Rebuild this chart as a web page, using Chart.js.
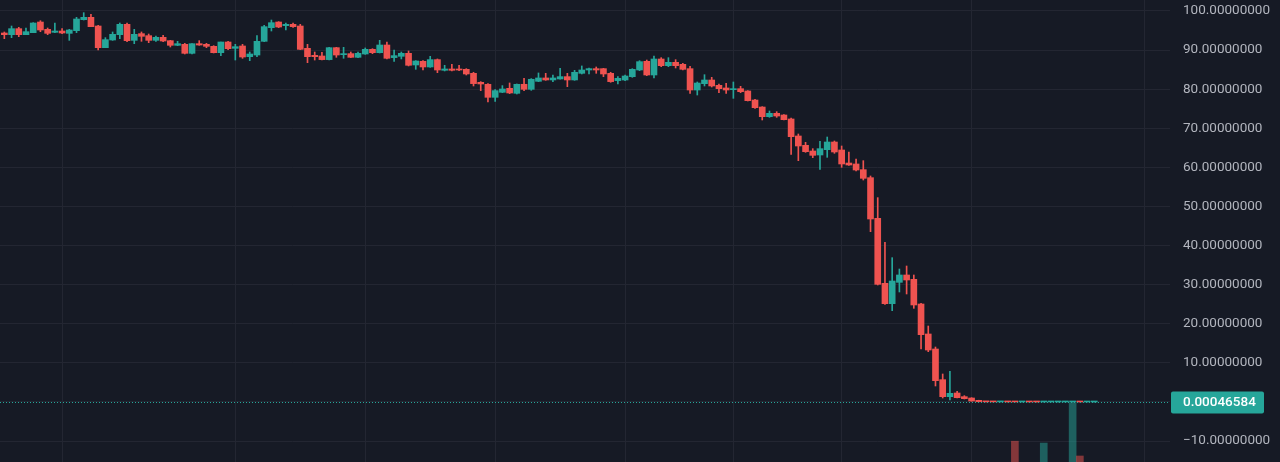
<!DOCTYPE html>
<html>
<head>
<meta charset="utf-8">
<script src="https://cdn.jsdelivr.net/npm/chart.js@4"></script>
<style>
html,body{margin:0;padding:0;background:#161a25;overflow:hidden}
#wrap{width:1280px;height:462px;position:relative}
</style>
</head>
<body>
<div id="wrap"><canvas id="c" width="1280" height="462"></canvas></div>
<script>
// ---- data ----
const opens = [94.37,93.94,95.48,93.94,94.46,97.18,95.31,94.54,94.88,94.28,
94.97,97.78,98.38,96.16,90.62,92.58,93.94,96.59,92.49,94.20,
93.69,92.49,93.26,92.41,91.22,91.47,89.17,91.64,91.47,90.96,
89.34,92.07,90.45,91.05,88.32,88.74,92.24,95.73,97.18,96.25,
96.59,96.16,90.45,88.66,88.49,87.56,90.62,88.83,89.09,88.15,
89.00,90.19,89.34,91.30,88.07,88.41,89.17,86.19,87.13,85.68,
87.56,84.83,85.17,85.17,85.08,84.06,81.76,81.25,77.92,79.20,
80.22,78.94,81.25,79.97,82.01,82.87,82.36,82.61,83.21,82.36,
84.06,84.91,85.25,85.25,84.06,82.19,82.35,83.20,84.91,87.12,
83.63,87.72,86.02,86.87,86.36,85.25,79.79,81.41,82.35,80.99,
80.31,79.88,80.13,79.54,77.23,75.44,72.97,73.82,73.40,72.38,
68.03,65.64,64.19,63.17,64.53,66.49,64.45,61.12,60.87,59.42,
57.37,46.97,30.35,25.15,30.60,32.48,31.37,25.06,17.39,13.55,
5.71,1.36,2.30,1.36,1.02,0.42,0.060,0.035,0.020,0.024,
0.014,0.008,0.010,0.006,0.0035,0.0048,0.0055,0.0062,0.0070,0.0095,
0.0004,0.00045];
const highs = [94.63,96.16,95.82,95.65,97.01,97.52,95.65,96.93,95.48,95.31,
98.38,99.57,99.14,96.33,93.18,94.63,96.93,96.93,95.31,94.63,
94.11,93.60,93.77,92.49,92.24,91.73,91.64,92.41,91.73,91.13,
92.07,92.24,91.47,91.47,89.51,93.69,96.33,97.69,97.27,96.93,
96.93,96.59,91.47,89.51,89.43,90.71,90.71,90.71,89.51,89.51,
90.54,90.36,92.50,92.07,90.03,89.51,89.77,87.30,87.30,88.41,
87.73,86.11,86.36,86.11,85.25,84.32,81.93,81.42,79.88,80.91,
81.59,81.33,82.78,82.70,84.15,84.06,83.63,85.34,84.06,84.83,
85.94,85.42,85.68,85.34,84.32,83.21,83.63,85.25,87.29,87.46,
88.49,88.06,88.06,87.55,86.61,85.85,81.84,83.71,83.03,81.33,
81.50,81.84,80.73,79.62,77.40,75.53,74.42,74.25,73.48,72.63,
68.54,66.41,64.79,66.66,67.77,66.75,65.47,63.94,62.14,61.72,
57.80,52.26,40.83,36.91,34.01,34.78,32.48,25.23,19.43,14.06,
7.16,7.84,2.72,1.62,1.10,0.45,0.065,0.040,0.028,0.026,
0.016,0.012,0.011,0.007,0.0052,0.0060,0.0068,0.0075,0.0110,0.0098,
0.0006,0.00050];
const lows = [92.92,93.18,93.43,93.94,94.46,94.71,93.94,94.46,94.20,92.49,
94.46,97.69,95.99,90.02,90.62,92.49,92.92,92.15,91.64,92.24,
91.90,92.24,92.15,90.79,91.13,89.00,89.00,91.22,90.62,89.26,
88.57,90.11,87.46,87.89,87.29,88.32,92.15,94.88,95.73,95.14,
95.82,90.11,86.78,87.46,87.47,87.47,88.15,87.90,88.07,88.07,
88.91,89.09,89.26,87.73,87.13,87.73,85.94,85.08,84.91,85.59,
84.23,84.66,84.66,84.74,83.63,80.82,79.63,76.73,76.90,79.11,
78.86,78.77,79.63,79.71,81.93,82.27,81.93,82.53,80.65,82.27,
83.89,83.89,84.06,83.21,81.76,81.33,82.18,83.03,84.74,83.46,
82.86,85.76,85.76,85.42,84.91,78.94,78.51,80.82,80.56,79.11,
78.94,77.66,79.11,76.98,75.10,72.12,72.80,72.80,72.12,63.34,
61.72,63.85,62.49,59.50,62.57,63.60,60.01,60.53,59.08,56.77,
43.56,29.92,24.98,23.36,28.13,27.62,23.95,13.55,12.87,4.09,
1.02,0.51,1.02,0.76,0.17,0.05,0.030,0.018,0.015,0.012,
0.006,0.007,0.005,0.003,0.0030,0.0044,0.0050,0.0058,0.0065,0.0003,
0.0003,0.00040];
const closes = [93.94,95.48,93.94,94.71,96.93,95.14,94.28,94.88,94.37,95.14,
97.95,98.38,95.99,90.62,92.67,94.03,96.59,92.41,94.03,93.52,
92.49,93.26,92.32,91.22,91.64,89.17,91.64,91.30,90.96,89.34,
92.07,90.36,90.87,88.23,89.00,92.24,95.99,97.01,95.90,96.59,
95.99,90.19,88.32,88.32,87.56,90.62,88.74,89.09,88.15,89.17,
90.19,89.34,91.30,87.90,88.58,89.17,86.11,87.21,85.68,87.56,
84.91,85.17,84.83,84.91,83.89,81.42,81.33,77.92,79.63,80.05,
79.03,81.25,79.97,82.53,82.87,82.36,82.87,83.21,82.36,84.32,
84.91,85.25,84.91,83.89,81.93,82.78,83.37,85.08,87.04,83.63,
87.72,86.02,86.87,86.02,85.08,79.79,81.58,82.35,80.82,80.13,
79.79,80.13,79.37,77.06,75.27,72.97,73.82,73.14,72.21,67.86,
65.47,64.02,63.08,64.79,66.49,63.94,60.87,60.61,59.33,57.20,
46.80,30.09,25.15,30.94,32.48,31.20,24.81,17.22,13.29,5.45,
1.36,2.21,1.10,0.85,0.25,0.06,0.035,0.020,0.024,0.014,
0.008,0.010,0.006,0.0035,0.0048,0.0055,0.0062,0.0070,0.0095,0.0004,
0.00045,0.00046584];
const volumeIndex = [140,144,148,149];
const volumeValues = [45,41,128,13];
const yTickValues = [-10,0,10,20,30,40,50,60,70,80,90,100];
const xGridIndex = [8,32,50,68,86,101,116,134,158];
const lastPrice = 0.00046584;

// ---- styles ----
const UP = '#26a69a', DOWN = '#ef5350';
const UPV = 'rgba(38,166,154,0.5)', DOWNV = 'rgba(239,83,80,0.5)';
const BG = '#161a25', GRID = '#232632';

const idx = opens.map((_, i) => i);
const isUp = idx.map(i => closes[i] >= opens[i]);
const bodyData = idx.map(i => ({x: i, y: [opens[i], closes[i]]}));
const wickData = idx.map(i => ({x: i, y: [lows[i], highs[i]]}));
const volData = volumeIndex.map((k, j) => ({x: k, y: volumeValues[j]}));

const bgPlugin = {
  id: 'bg',
  beforeDraw(chart) {
    const c = chart.ctx;
    c.save(); c.fillStyle = BG; c.fillRect(0, 0, chart.width, chart.height); c.restore();
  }
};
const priceLine = {
  id: 'priceLine',
  afterDraw(chart) {
    const c = chart.ctx, a = chart.chartArea;
    const y = Math.round(chart.scales.y.getPixelForValue(lastPrice));
    c.save();
    c.strokeStyle = UP; c.lineWidth = 1; c.setLineDash([1, 2]);
    c.beginPath(); c.moveTo(a.left, y + 0.5); c.lineTo(a.right - 1, y + 0.5); c.stroke();
    c.setLineDash([]);
    const bx = a.right + 1, bw = 93, bh = 22, by = y - 10.5;
    c.fillStyle = UP;
    c.beginPath();
    if (c.roundRect) c.roundRect(bx, by, bw, bh, 2); else c.rect(bx, by, bw, bh);
    c.fill();
    c.fillStyle = '#ffffff';
    c.font = '500 13.5px Roboto';
    c.textBaseline = 'middle'; c.textAlign = 'left';
    c.fillText(lastPrice.toFixed(8), a.right + 13, y + 1);
    c.restore();
  }
};

new Chart(document.getElementById('c'), {
  type: 'bar',
  data: {
    datasets: [
      {label: 'body', data: bodyData, backgroundColor: idx.map(i => isUp[i] ? UP : DOWN),
       barThickness: 6, minBarLength: 1, grouped: false, order: 1, borderWidth: 0},
      {label: 'wick', data: wickData, backgroundColor: idx.map(i => isUp[i] ? UP : DOWN),
       barThickness: 1, grouped: false, order: 2, borderWidth: 0},
      {label: 'volume', data: volData, yAxisID: 'yv',
       backgroundColor: volumeIndex.map(k => isUp[k] ? UPV : DOWNV),
       barThickness: 7, grouped: false, order: 3, borderWidth: 0}
    ]
  },
  options: {
    responsive: false,
    animation: false,
    devicePixelRatio: 1,
    layout: {padding: 0},
    plugins: {legend: {display: false}, tooltip: {enabled: false}},
    scales: {
      x: {
        type: 'linear', min: -0.6, max: 161.49, offset: false,
        grid: {color: GRID, offset: false, drawTicks: false},
        border: {display: false},
        ticks: {display: false},
        afterBuildTicks: s => { s.ticks = xGridIndex.map(v => ({value: v})); },
        afterFit: s => { s.height = 0; s.paddingLeft = 0; s.paddingRight = 0; s.paddingTop = 0; s.paddingBottom = 0; }
      },
      y: {
        position: 'right', min: -15.35, max: 102.81,
        grid: {color: GRID, drawTicks: false},
        border: {display: false},
        afterBuildTicks: s => { s.ticks = yTickValues.map(v => ({value: v})); },
        afterFit: s => { s.width = 110; s.paddingTop = 0; s.paddingBottom = 0; },
        ticks: {
          autoSkip: false, padding: 13, color: '#b2b5be',
          font: {family: 'Roboto', size: 13.5},
          callback: v => v === 0 ? '' : (v < 0 ? '\u2212' : '') + Math.abs(v).toFixed(8)
        }
      },
      yv: {display: false, min: 0, max: 1000,
        afterFit: s => { s.width = 0; s.paddingTop = 0; s.paddingBottom = 0; }}
    }
  },
  plugins: [bgPlugin, priceLine]
});
</script>
</body>
</html>
